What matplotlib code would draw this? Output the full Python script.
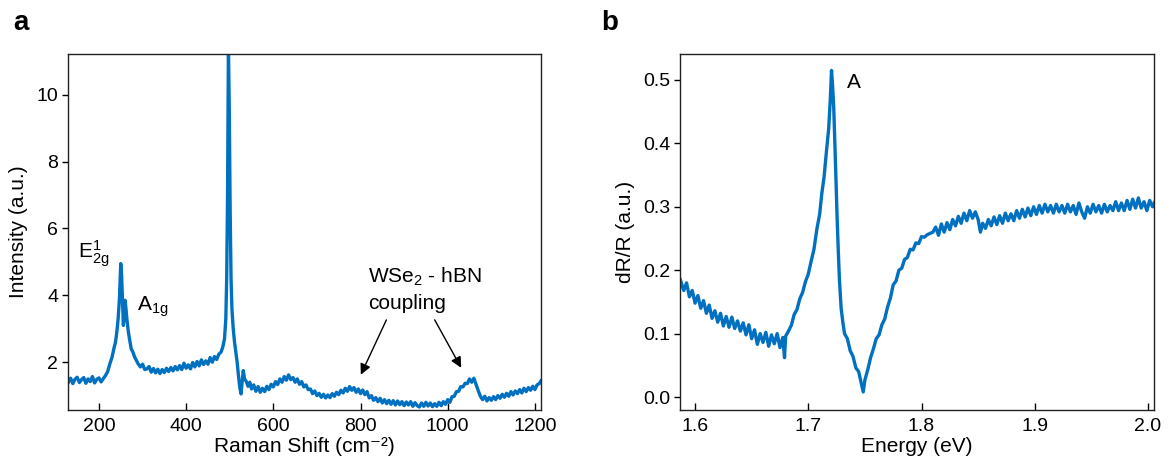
import numpy as np
import matplotlib
matplotlib.use("Agg")
import matplotlib.pyplot as plt

plt.rcParams['font.family'] = ['Liberation Sans', 'DejaVu Sans']
plt.rcParams['mathtext.fontset'] = 'custom'
plt.rcParams['mathtext.rm'] = 'Liberation Sans'
plt.rcParams['mathtext.it'] = 'Liberation Sans'
plt.rcParams['font.size'] = 14

# panel a: Raman spectrum
raman_shift = [
    130, 135, 140, 145, 150, 155, 160, 165, 170, 175, 180, 185, 190, 195, 200, 205, 210, 215,
    220, 225, 230, 235, 238, 241, 244, 247, 250, 252, 254, 256, 258, 260, 262, 264, 267, 270,
    274, 278, 282, 286, 290, 295, 300, 305, 310, 315, 320, 325, 330, 335, 340, 345, 350, 355,
    360, 365, 370, 375, 380, 385, 390, 395, 400, 405, 410, 415, 420, 425, 430, 435, 440, 445,
    450, 455, 460, 465, 470, 475, 480, 484, 488, 491, 493, 495, 497, 499, 501, 503, 505, 508,
    511, 514, 517, 520, 523, 526, 528, 531, 534, 538, 542, 546, 550, 555, 560, 565, 570, 575,
    580, 585, 590, 595, 600, 605, 610, 615, 620, 625, 630, 635, 640, 645, 650, 655, 660, 665,
    670, 675, 680, 685, 690, 695, 700, 705, 710, 715, 720, 725, 730, 735, 740, 745, 750, 755,
    760, 765, 770, 775, 780, 785, 790, 795, 800, 805, 810, 815, 820, 825, 830, 835, 840, 845,
    850, 855, 860, 865, 870, 875, 880, 885, 890, 895, 900, 905, 910, 915, 920, 925, 930, 935,
    940, 945, 950, 955, 960, 965, 970, 975, 980, 985, 990, 995, 1000, 1005, 1010, 1015, 1020,
    1025, 1030, 1035, 1040, 1045, 1050, 1055, 1060, 1065, 1070, 1075, 1080, 1085, 1090, 1095,
    1100, 1105, 1110, 1115, 1120, 1125, 1130, 1135, 1140, 1145, 1150, 1155, 1160, 1165, 1170,
    1175, 1180, 1185, 1190, 1195, 1200, 1205, 1210, 1214,
]
raman_int = [
    1.40, 1.52, 1.36, 1.49, 1.55, 1.39, 1.48, 1.54, 1.37, 1.50, 1.42, 1.57, 1.38, 1.49, 1.53, 1.41, 1.51, 1.60,
    1.72, 1.95, 2.15, 2.45, 2.60, 2.90, 3.30, 3.90, 4.95, 4.60, 3.80, 3.10, 3.40, 3.85, 3.60, 3.30, 2.95, 2.70,
    2.40, 2.30, 2.15, 2.05, 1.95, 1.86, 1.94, 1.78, 1.80, 1.87, 1.70, 1.81, 1.68, 1.79, 1.66, 1.78, 1.69, 1.82,
    1.72, 1.84, 1.74, 1.87, 1.77, 1.90, 1.78, 1.97, 1.82, 1.92, 1.80, 1.99, 1.86, 2.02, 1.89, 2.07, 1.93, 2.04,
    1.94, 2.14, 2.00, 2.17, 2.08, 2.24, 2.30, 2.45, 2.70, 3.30, 4.50, 7.00, 11.5, 9.50, 6.50, 4.50, 3.60, 3.00,
    2.60, 2.30, 2.00, 1.60, 1.25, 1.05, 1.35, 1.75, 1.50, 1.42, 1.28, 1.40, 1.20, 1.32, 1.13, 1.27, 1.10, 1.22,
    1.12, 1.28, 1.18, 1.34, 1.26, 1.42, 1.33, 1.50, 1.40, 1.57, 1.46, 1.62, 1.48, 1.54, 1.40, 1.50, 1.34, 1.42,
    1.26, 1.32, 1.18, 1.20, 1.06, 1.14, 1.00, 1.07, 0.95, 1.04, 0.93, 1.02, 0.94, 1.06, 0.98, 1.10, 1.03, 1.16,
    1.08, 1.22, 1.13, 1.27, 1.16, 1.24, 1.10, 1.20, 1.06, 1.17, 1.03, 1.12, 0.93, 1.00, 0.86, 0.94, 0.82, 0.92,
    0.78, 0.88, 0.76, 0.86, 0.74, 0.85, 0.72, 0.84, 0.73, 0.82, 0.70, 0.81, 0.72, 0.82, 0.68, 0.79, 0.70, 0.66,
    0.78, 0.68, 0.80, 0.69, 0.78, 0.67, 0.76, 0.68, 0.80, 0.70, 0.82, 0.74, 0.88, 0.80, 0.97, 0.98, 1.12,
    1.13, 1.27, 1.26, 1.37, 1.36, 1.50, 1.40, 1.52, 1.33, 1.15, 0.98, 0.88, 0.98, 0.84, 0.94,
    0.86, 0.97, 0.88, 1.00, 0.92, 1.04, 0.95, 1.07, 0.98, 1.12, 1.02, 1.14, 1.06, 1.18, 1.08,
    1.22, 1.12, 1.24, 1.16, 1.28, 1.18, 1.32, 1.36, 1.44,
]

# panel b: differential reflectance
energy = [
    1.5870, 1.5900, 1.5925, 1.5950, 1.5975, 1.6000, 1.6025, 1.6050, 1.6075, 1.6100, 1.6125, 1.6150,
    1.6175, 1.6200, 1.6225, 1.6250, 1.6275, 1.6300, 1.6325, 1.6350, 1.6375, 1.6400, 1.6425, 1.6450,
    1.6475, 1.6500, 1.6525, 1.6550, 1.6575, 1.6600, 1.6625, 1.6650, 1.6675, 1.6700, 1.6725, 1.6750,
    1.6775, 1.6790, 1.6800, 1.6825, 1.6850, 1.6875, 1.6900, 1.6925, 1.6950, 1.6975, 1.7000, 1.7025,
    1.7050, 1.7075, 1.7100, 1.7120, 1.7140, 1.7160, 1.7180, 1.7195, 1.7205, 1.7215, 1.7225, 1.7235,
    1.7245, 1.7255, 1.7265, 1.7275, 1.7290, 1.7305, 1.7320, 1.7345, 1.7370, 1.7395, 1.7420, 1.7445,
    1.7470, 1.7485, 1.7500, 1.7525, 1.7550, 1.7575, 1.7600, 1.7625, 1.7650, 1.7675, 1.7700, 1.7725,
    1.7750, 1.7775, 1.7800, 1.7825, 1.7850, 1.7875, 1.7900, 1.7925, 1.7950, 1.7975, 1.8000, 1.8025,
    1.8050, 1.8075, 1.8100, 1.8125, 1.8150, 1.8175, 1.8200, 1.8225, 1.8250, 1.8275, 1.8300, 1.8325,
    1.8350, 1.8375, 1.8400, 1.8425, 1.8450, 1.8475, 1.8500, 1.8520, 1.8540, 1.8565, 1.8590, 1.8615,
    1.8640, 1.8665, 1.8690, 1.8715, 1.8740, 1.8765, 1.8790, 1.8815, 1.8840, 1.8865, 1.8890, 1.8915,
    1.8940, 1.8965, 1.8990, 1.9015, 1.9040, 1.9065, 1.9090, 1.9115, 1.9140, 1.9165, 1.9190, 1.9215,
    1.9240, 1.9265, 1.9290, 1.9315, 1.9340, 1.9365, 1.9390, 1.9415, 1.9440, 1.9465, 1.9490, 1.9515,
    1.9540, 1.9565, 1.9590, 1.9615, 1.9640, 1.9665, 1.9690, 1.9715, 1.9740, 1.9765, 1.9790, 1.9815,
    1.9840, 1.9865, 1.9890, 1.9915, 1.9940, 1.9965, 1.9990, 2.0015, 2.0040, 2.0055,
]
dr_r = [
    0.185, 0.168, 0.180, 0.158, 0.168, 0.148, 0.160, 0.140, 0.152, 0.132, 0.145, 0.124,
    0.136, 0.118, 0.132, 0.112, 0.127, 0.110, 0.126, 0.108, 0.120, 0.104, 0.117, 0.098,
    0.114, 0.092, 0.106, 0.083, 0.100, 0.086, 0.102, 0.080, 0.098, 0.084, 0.100, 0.078,
    0.094, 0.062, 0.096, 0.104, 0.113, 0.130, 0.138, 0.155, 0.165, 0.182, 0.194, 0.214,
    0.233, 0.264, 0.288, 0.322, 0.348, 0.387, 0.423, 0.472, 0.515, 0.490, 0.455, 0.400,
    0.340, 0.280, 0.230, 0.185, 0.140, 0.118, 0.100, 0.092, 0.073, 0.064, 0.046, 0.040,
    0.020, 0.008, 0.027, 0.043, 0.062, 0.076, 0.092, 0.098, 0.114, 0.123, 0.142, 0.156,
    0.177, 0.183, 0.200, 0.203, 0.217, 0.220, 0.233, 0.232, 0.243, 0.242, 0.253, 0.252,
    0.256, 0.258, 0.260, 0.268, 0.255, 0.273, 0.260, 0.275, 0.264, 0.280, 0.270, 0.285,
    0.274, 0.290, 0.278, 0.294, 0.282, 0.292, 0.280, 0.260, 0.274, 0.266, 0.280, 0.270,
    0.284, 0.272, 0.286, 0.274, 0.290, 0.278, 0.289, 0.278, 0.294, 0.282, 0.296, 0.284,
    0.298, 0.286, 0.300, 0.288, 0.302, 0.290, 0.304, 0.292, 0.302, 0.290, 0.304, 0.292,
    0.302, 0.290, 0.304, 0.292, 0.302, 0.288, 0.306, 0.292, 0.282, 0.300, 0.290, 0.304,
    0.292, 0.302, 0.290, 0.304, 0.292, 0.302, 0.294, 0.308, 0.294, 0.306, 0.294, 0.310,
    0.296, 0.312, 0.298, 0.314, 0.298, 0.308, 0.294, 0.310, 0.300, 0.306,
]

blue = '#0070c0'

fig = plt.figure(figsize=(11.69, 4.65), dpi=100)
ax1 = fig.add_axes([68 / 1169, 1 - 410 / 465, 473 / 1169, 356 / 465])
ax2 = fig.add_axes([680 / 1169, 1 - 410 / 465, 474 / 1169, 356 / 465])

ax1.plot(raman_shift, raman_int, color=blue, lw=2.4)
ax1.set_xlim(129, 1214)
ax1.set_ylim(0.57, 11.22)
ax1.set_xticks([200, 400, 600, 800, 1000, 1200])
ax1.set_yticks([2, 4, 6, 8, 10])
ax1.set_xlabel('Raman Shift (cm\u207b\u00b2)', fontsize=15, labelpad=1)
ax1.set_ylabel('Intensity (a.u.)', fontsize=15, labelpad=6)

ax1.text(152, 5.1, r'E$^{\mathregular{1}}_{\mathregular{2g}}$', fontsize=15)
ax1.text(287, 3.55, r'A$_{\mathregular{1g}}$', fontsize=15)
ax1.text(818, 4.39, r'WSe$_{\mathregular{2}}$ - hBN', fontsize=15)
ax1.text(818, 3.6, 'coupling', fontsize=15)
ax1.annotate('', xy=(798, 1.55), xytext=(862, 3.34),
             arrowprops=dict(arrowstyle='-|>', color='black', lw=1.0, mutation_scale=16))
ax1.annotate('', xy=(1034, 1.76), xytext=(967, 3.34),
             arrowprops=dict(arrowstyle='-|>', color='black', lw=1.0, mutation_scale=16))

ax2.plot(energy, dr_r, color=blue, lw=2.4)
ax2.set_xlim(1.5867, 2.0053)
ax2.set_ylim(-0.0205, 0.541)
ax2.set_xticks([1.6, 1.7, 1.8, 1.9, 2.0])
ax2.set_yticks([0.0, 0.1, 0.2, 0.3, 0.4, 0.5])
ax2.set_xticklabels(['1.6', '1.7', '1.8', '1.9', '2.0'])
ax2.set_yticklabels(['0.0', '0.1', '0.2', '0.3', '0.4', '0.5'])
ax2.set_xlabel('Energy (eV)', fontsize=15, labelpad=1)
ax2.set_ylabel('dR/R (a.u.)', fontsize=15, labelpad=6)
ax2.text(1.7342, 0.487, 'A', fontsize=15)

for ax in (ax1, ax2):
    for sp in ax.spines.values():
        sp.set_linewidth(1.0)
        sp.set_color('#222222')
    ax.tick_params(axis='x', direction='in', length=5, width=1.0, labelsize=14, pad=6)
    ax.tick_params(axis='y', direction='out', length=4, width=1.0, labelsize=14, pad=3)

fig.text(13 / 1169, 1 - 30 / 465, 'a', fontsize=20, fontweight='bold')
fig.text(601 / 1169, 1 - 30 / 465, 'b', fontsize=20, fontweight='bold')

fig.savefig('out.png', dpi=100)
